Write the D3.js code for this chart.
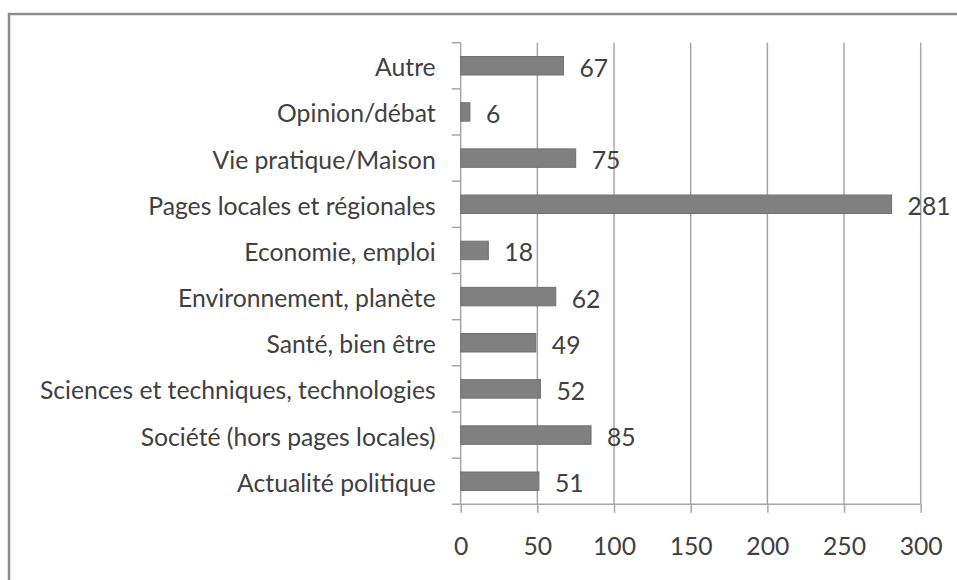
<!DOCTYPE html>
<html>
<head>
<meta charset="utf-8">
<script src="https://cdn.jsdelivr.net/npm/d3@7"></script>
<style>
  body { margin: 0; background: #fff; }
  svg { display: block; }
  text { font-family: Lato, "Open Sans", sans-serif; fill: #404040; }
</style>
</head>
<body>
<svg width="957" height="580"></svg>
<script>
var categories = ["Autre", "Opinion/débat", "Vie pratique/Maison", "Pages locales et régionales",
  "Economie, emploi", "Environnement, planète", "Santé, bien être",
  "Sciences et techniques, technologies", "Société (hors pages locales)", "Actualité politique"];
var values = [67, 6, 75, 281, 18, 62, 49, 52, 85, 51];
var xTicks = [0, 50, 100, 150, 200, 250, 300];

var svg = d3.select("svg");

// outer frame, cut off at right and bottom like the original
svg.append("rect")
  .attr("x", 9).attr("y", 14)
  .attr("width", 1000).attr("height", 700)
  .attr("fill", "none")
  .attr("stroke", "#8c8c8c")
  .attr("stroke-width", 2.5);

var plotLeft = 460.7, plotRight = 920.7, plotTop = 42.7, plotBottom = 504.3;

var x = d3.scaleLinear().domain([0, 300]).range([plotLeft, plotRight]);
var y = d3.scaleBand().domain(categories).range([plotTop, plotBottom]).paddingInner(0.6).paddingOuter(0.3);

// pick a font size so the longest label is as wide as in the picture
var probe = svg.append("text").style("font-size", "20px").text(categories[7]);
var fs = 20 * 396 / probe.node().getComputedTextLength();
probe.remove();

// grid
svg.append("g").selectAll("line")
  .data(xTicks.slice(1))
  .enter().append("line")
    .attr("x1", function(d) { return x(d); })
    .attr("x2", function(d) { return x(d); })
    .attr("y1", plotTop).attr("y2", plotBottom)
    .attr("stroke", "#a6a6a6")
    .attr("stroke-width", 1.5);

// bottom axis
var xAxis = svg.append("g")
  .attr("transform", "translate(0," + plotBottom + ")")
  .call(d3.axisBottom(x).tickValues(xTicks).tickSize(8.5).tickPadding(25).tickSizeOuter(0));
xAxis.select(".domain").remove();
xAxis.selectAll("line").attr("stroke", "#a6a6a6").attr("stroke-width", 1.5);
xAxis.selectAll("text")
  .style("font-size", fs + "px")
  .style("font-family", "Lato, 'Open Sans', sans-serif")
  .attr("fill", "#404040");

svg.append("line")
  .attr("x1", plotLeft - 9).attr("x2", plotRight)
  .attr("y1", plotBottom).attr("y2", plotBottom)
  .attr("stroke", "#a6a6a6").attr("stroke-width", 1.5);

// left axis with ticks between categories
svg.append("line")
  .attr("x1", plotLeft).attr("x2", plotLeft)
  .attr("y1", plotTop).attr("y2", plotBottom)
  .attr("stroke", "#a6a6a6").attr("stroke-width", 1.5);

var step = y.step();
svg.append("g").selectAll("line")
  .data(d3.range(categories.length))
  .enter().append("line")
    .attr("x1", plotLeft - 9).attr("x2", plotLeft)
    .attr("y1", function(i) { return plotTop + i * step; })
    .attr("y2", function(i) { return plotTop + i * step; })
    .attr("stroke", "#a6a6a6").attr("stroke-width", 1.5);

// category labels
svg.append("g").selectAll("text")
  .data(categories)
  .enter().append("text")
    .attr("x", plotLeft - 25)
    .attr("y", function(d) { return y(d) + y.bandwidth() / 2 + 1; })
    .attr("text-anchor", "end")
    .attr("dominant-baseline", "central")
    .style("font-size", fs + "px")
    .text(function(d) { return d; });

// bars
var rows = categories.map(function(c, i) { return { cat: c, value: values[i] }; });

svg.append("g").selectAll("rect")
  .data(rows)
  .enter().append("rect")
    .attr("x", x(0))
    .attr("y", function(d) { return y(d.cat); })
    .attr("width", function(d) { return x(d.value) - x(0); })
    .attr("height", y.bandwidth())
    .attr("fill", "#808080")
    .attr("stroke", "#707070")
    .attr("stroke-width", 1);

// value labels
svg.append("g").selectAll("text")
  .data(rows)
  .enter().append("text")
    .attr("x", function(d) { return x(d.value) + 16; })
    .attr("y", function(d) { return y(d.cat) + y.bandwidth() / 2 + 1.5; })
    .attr("dominant-baseline", "central")
    .style("font-size", fs + "px")
    .text(function(d) { return d.value; });
</script>
</body>
</html>
